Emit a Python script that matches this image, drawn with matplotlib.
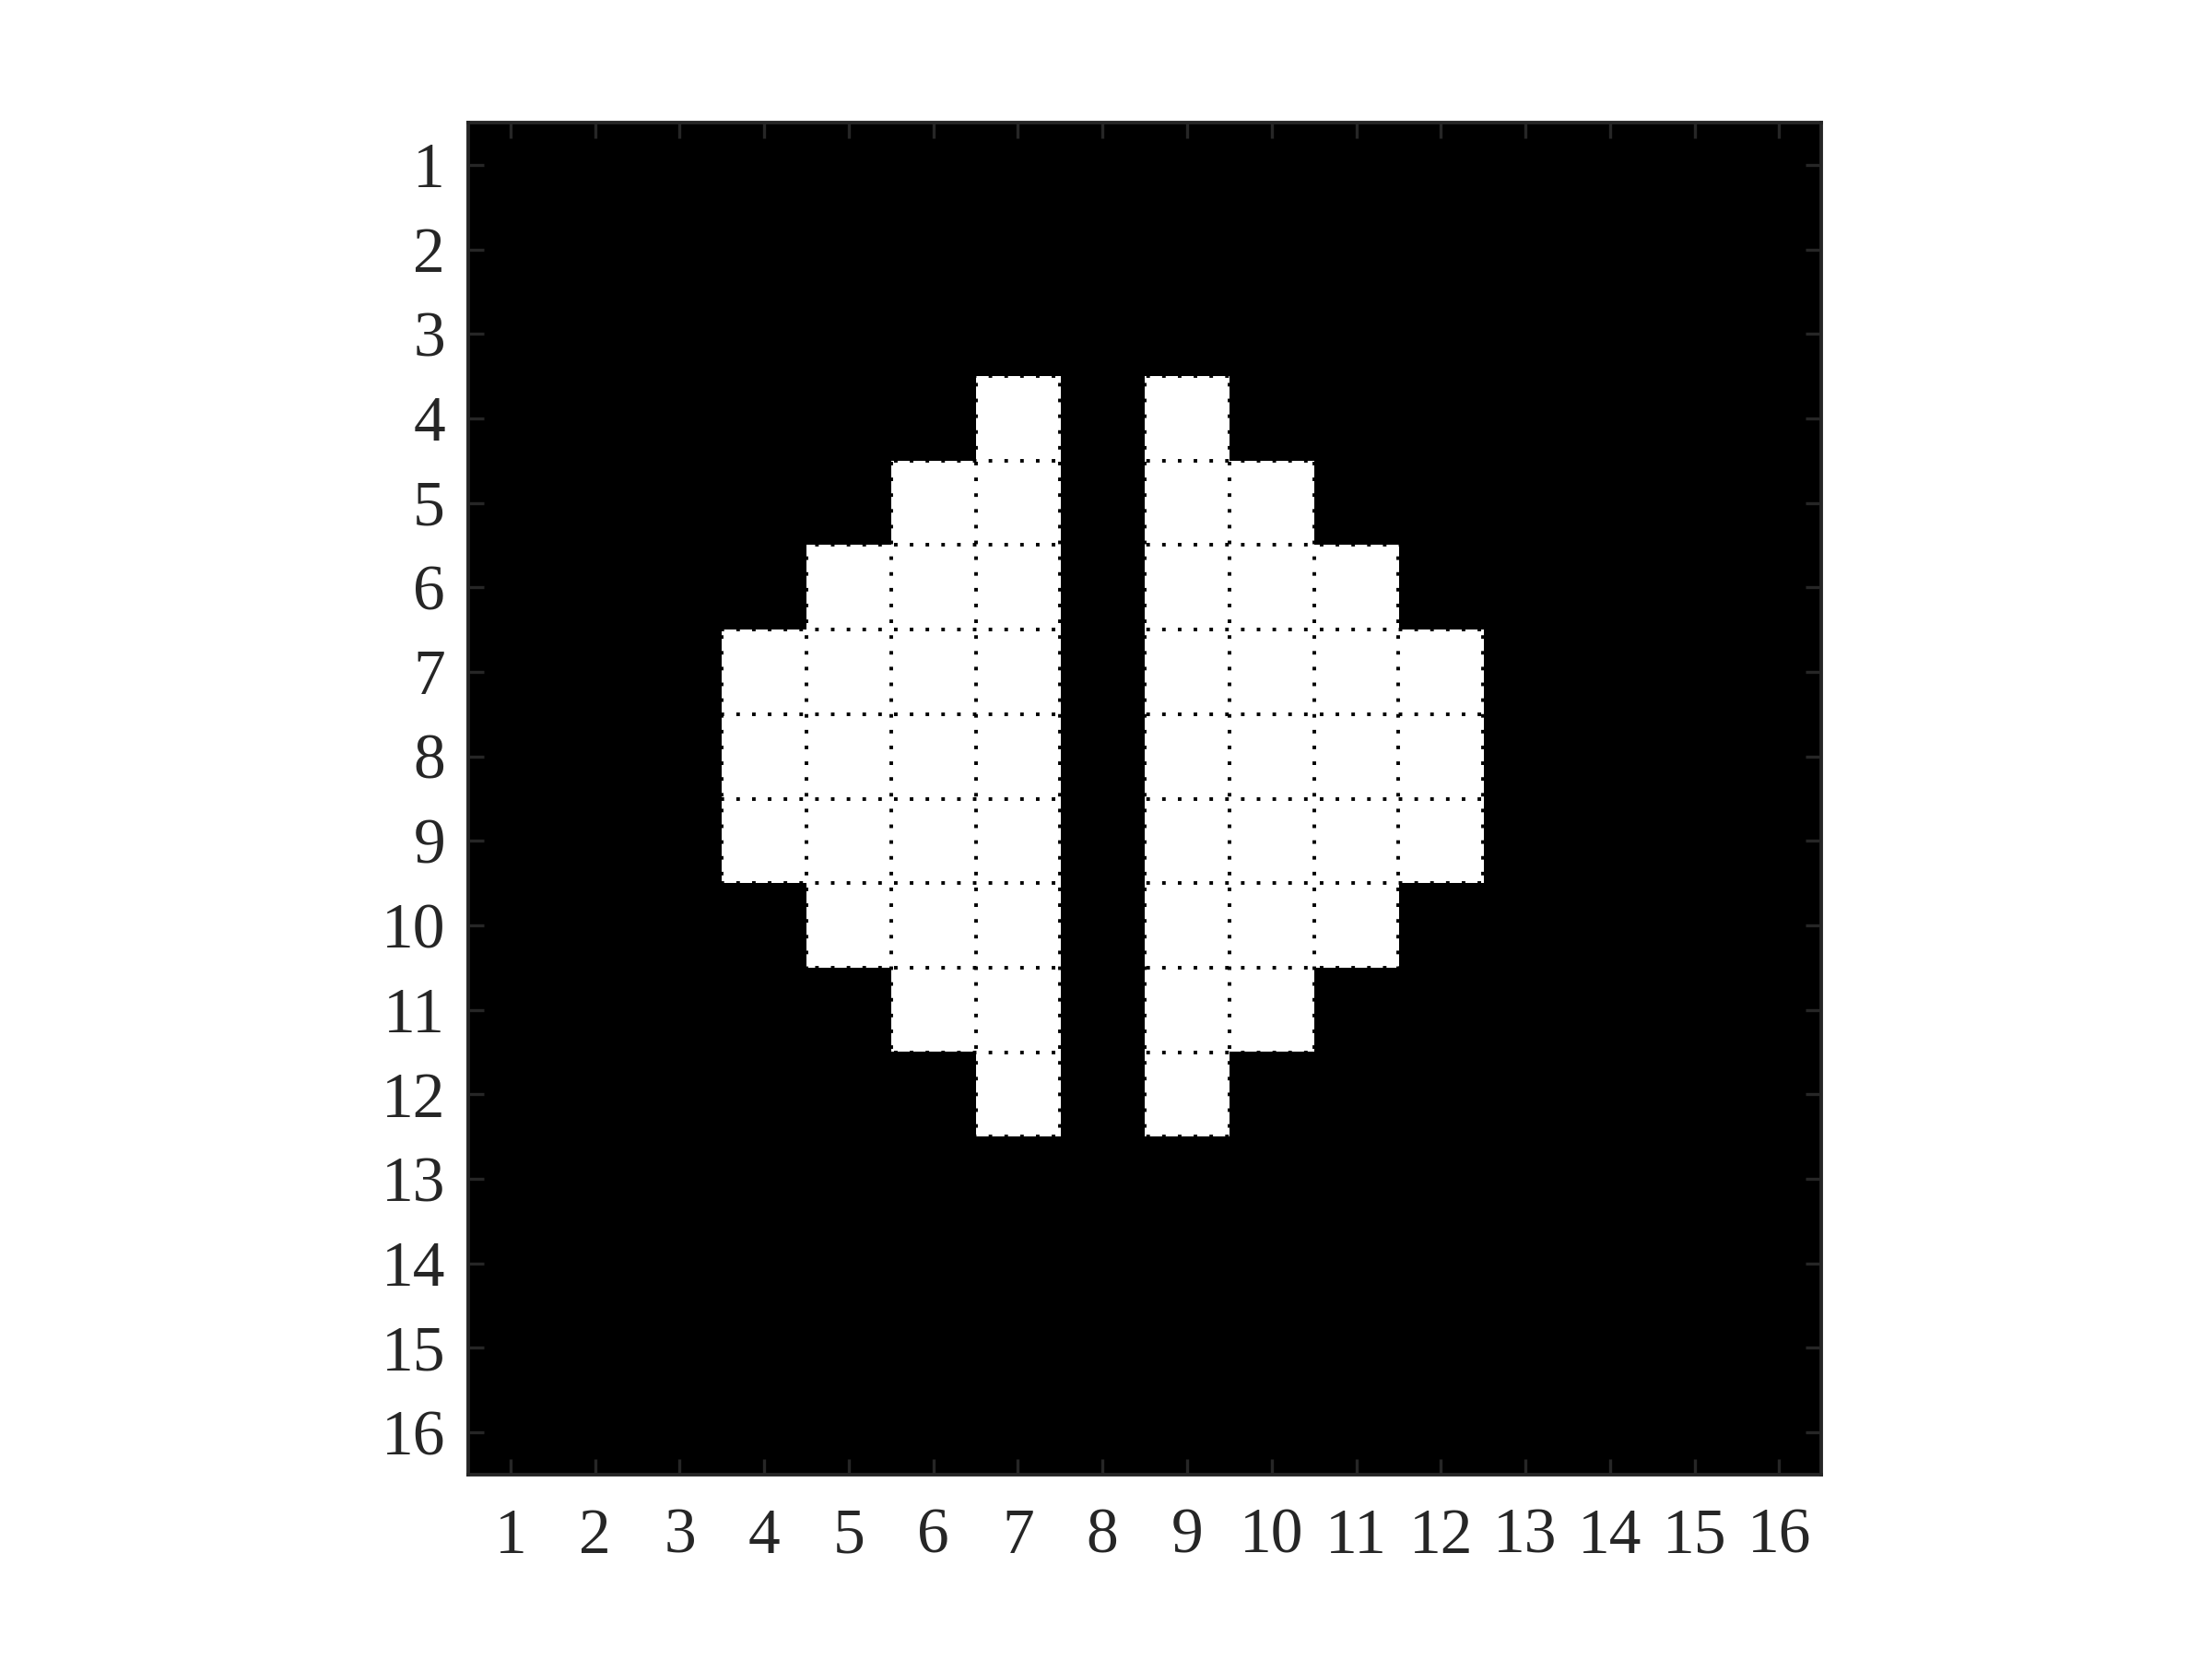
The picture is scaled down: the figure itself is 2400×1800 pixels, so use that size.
import numpy as np
import matplotlib
matplotlib.use("Agg")
import matplotlib.pyplot as plt

plt.rcParams['font.family'] = ['Liberation Serif', 'DejaVu Serif']

# white cells: row -> list of columns (1-based)
rows = list(range(1, 17))
cols = list(range(1, 17))
white_cells = {
    4: [7, 9],
    5: [6, 7, 9, 10],
    6: [5, 6, 7, 9, 10, 11],
    7: [4, 5, 6, 7, 9, 10, 11, 12],
    8: [4, 5, 6, 7, 9, 10, 11, 12],
    9: [4, 5, 6, 7, 9, 10, 11, 12],
    10: [5, 6, 7, 9, 10, 11],
    11: [6, 7, 9, 10],
    12: [7, 9],
}

img = np.zeros((16, 16))
for r, cs in white_cells.items():
    for c in cs:
        img[r - 1, c - 1] = 1

fig = plt.figure(figsize=(12, 9), dpi=200)
ax = fig.add_axes([0.2117, 0.1111, 0.6117, 0.8150])
ax.imshow(img, cmap='gray', vmin=0, vmax=1, interpolation='nearest',
          extent=(0.5, 16.5, 16.5, 0.5), aspect='auto')

edges = np.arange(0.5, 17.0, 1.0)
for e in edges:
    ax.axvline(e, color='black', lw=1.4, linestyle=(0, (1, 3.4)), zorder=3)
    ax.axhline(e, color='black', lw=1.4, linestyle=(0, (1, 3.4)), zorder=3)

ax.set_xlim(0.5, 16.5)
ax.set_ylim(16.5, 0.5)
ax.set_xticks(cols)
ax.set_yticks(rows)
ax.set_xticklabels([str(c) for c in cols])
ax.set_yticklabels([str(r) for r in rows])
ax.tick_params(direction='in', length=6, width=1.2, colors='#262626',
               labelsize=25, top=True, right=True)
ax.tick_params(axis='x', pad=13)
ax.tick_params(axis='y', pad=9)
for s in ax.spines.values():
    s.set_color('#262626')
    s.set_linewidth(1.4)
    s.set_zorder(4)

fig.savefig('out.png', dpi=200)
